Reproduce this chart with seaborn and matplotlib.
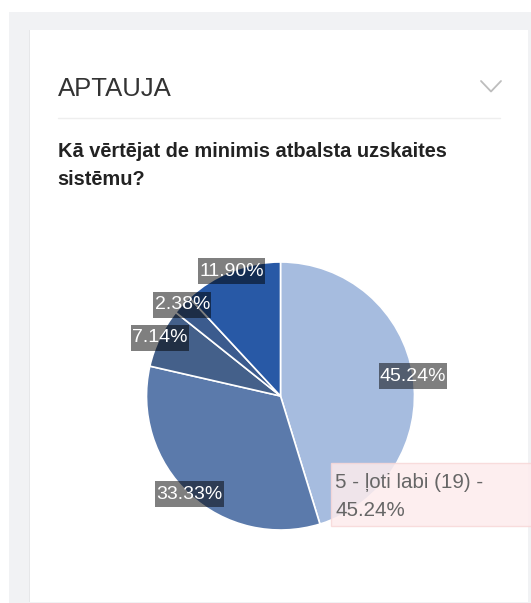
import matplotlib
matplotlib.use("Agg")
import matplotlib.pyplot as plt
from matplotlib.patches import Rectangle
from matplotlib.lines import Line2D
from matplotlib.path import Path
import seaborn as sns

# Survey answers (share of respondents), clockwise from 12 o'clock
answers = ["5 - ļoti labi", "4", "3", "2", "1"]
counts = [19, 14, 3, 1, 5]
shares = [45.24, 33.33, 7.14, 2.38, 11.90]
slice_colors = ["#a6bcdf", "#5b7aab", "#44608a", "#3b5b8e", "#2859a6"]

panel_title = "APTAUJA"
question = "Kā vērtējat de minimis atbalsta uzskaites\nsistēmu?"
tooltip = f"{answers[0]} ({counts[0]}) -\n{shares[0]:.2f}%"

sns.set_theme(style="white")
plt.rcParams["font.family"] = ["Liberation Sans", "DejaVu Sans"]

W, H = 531, 603
fig = plt.figure(figsize=(W / 100, H / 100), dpi=100, facecolor="white")


def fx(x):
    return x / W


def fy(y):
    return 1 - y / H


def label_box(x0, y0, width, height, mutation_size):
    """Rectangular label background, tight sideways and roomier vertically."""
    px, py = 0.06 * mutation_size, 0.22 * mutation_size
    x1, y1 = x0 + width + px, y0 + height + py
    x0, y0 = x0 - px, y0 - py
    return Path([(x0, y0), (x1, y0), (x1, y1), (x0, y1), (x0, y0)], closed=True)


# page background and card
fig.patches.append(Rectangle((fx(9), 0), 1 - fx(9), fy(12), transform=fig.transFigure,
                             facecolor="#f1f2f4", edgecolor="none", zorder=-3))
fig.patches.append(Rectangle((fx(29), fy(602)), fx(528) - fx(29), fy(30) - fy(602),
                             transform=fig.transFigure, facecolor="#e6e7e9",
                             edgecolor="none", zorder=-2))
fig.patches.append(Rectangle((fx(30), fy(602)), fx(528) - fx(30), fy(30) - fy(602),
                             transform=fig.transFigure, facecolor="white",
                             edgecolor="none", zorder=-1))

# header
fig.text(fx(57.5), fy(96.5), panel_title, fontsize=18.5, color="#333333",
         ha="left", va="baseline")
fig.lines.append(Line2D([fx(481), fx(491), fx(501)], [fy(81), fy(91.5), fy(81)],
                        transform=fig.transFigure, color="#bdbdbd", lw=1.3))
fig.lines.append(Line2D([fx(58), fx(500)], [fy(118.5), fy(118.5)],
                        transform=fig.transFigure, color="#eeeeee", lw=1.0))
# multi-line text: baseline alignment refers to the last line
fig.text(fx(57.5), fy(184.6), question, fontsize=14.4, fontweight="bold",
         color="#222222", ha="left", va="baseline", linespacing=1.6)

# pie
cx, cy, r = 280.5, 396, 134
ax = fig.add_axes([fx(cx - r), fy(cy + r), 2 * r / W, 2 * r / H], zorder=1)
palette = sns.color_palette(slice_colors)
wedges, texts, autotexts = ax.pie(
    shares, colors=palette, startangle=90, counterclock=False,
    autopct="%.2f%%", pctdistance=1.0, radius=1.0,
    wedgeprops=dict(edgecolor="white", linewidth=1.2),
    textprops=dict(color="white", fontsize=14),
)
for t in autotexts:
    t.set_bbox(dict(boxstyle=label_box, facecolor="black", alpha=0.5,
                    edgecolor="none"))
    t.set_zorder(5)
ax.set_xlim(-1, 1)
ax.set_ylim(-1, 1)
ax.set_aspect("auto")
ax.axis("off")

# hover tooltip
fig.patches.append(Rectangle((fx(331), fy(526)), 1 - fx(331) + 0.01, fy(463) - fy(526),
                             transform=fig.transFigure, facecolor="#fdeced",
                             alpha=0.85, edgecolor="#f8d8d8", lw=1.0, zorder=10))
fig.text(fx(335), fy(515.7), tooltip, fontsize=14.8, color="#666666",
         ha="left", va="baseline", linespacing=1.6, zorder=11)

fig.savefig("out.png", dpi=100, facecolor="white")
